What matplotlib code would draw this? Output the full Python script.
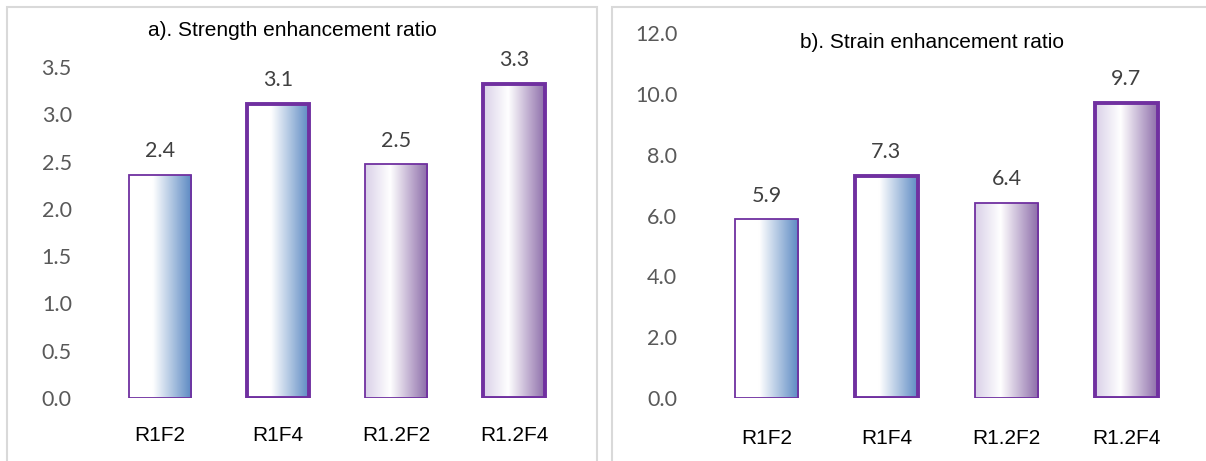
import numpy as np
import matplotlib.pyplot as plt
from matplotlib.colors import LinearSegmentedColormap
from matplotlib.patches import Rectangle

categories = ["R1F2", "R1F4", "R1.2F2", "R1.2F4"]
strength_ratio = [2.36, 3.11, 2.47, 3.32]
strain_ratio = [5.88, 7.30, 6.41, 9.70]
strength_ticks = [0.0, 0.5, 1.0, 1.5, 2.0, 2.5, 3.0, 3.5]
strain_ticks = [0.0, 2.0, 4.0, 6.0, 8.0, 10.0, 12.0]

EDGE = "#7030A0"
edge_widths = [1.3, 2.8, 1.3, 2.8]

blue_cmap = LinearSegmentedColormap.from_list(
    "blue_fade", [(0.0, "#ffffff"), (0.38, "#ffffff"), (1.0, "#5a88c2")])
purple_cmap = LinearSegmentedColormap.from_list(
    "purple_fade", [(0.0, "#d9d0e8"), (0.40, "#ffffff"), (1.0, "#8b6aa8")])
bar_cmaps = [blue_cmap, blue_cmap, purple_cmap, purple_cmap]

TEXT_FONT = ["Liberation Sans", "DejaVu Sans"]
NUM_FONT = ["Lato", "DejaVu Sans"]

fig = plt.figure(figsize=(12.06, 4.61), dpi=100)

# panel frames
W, H = 1206, 461
for (x0, y0, x1, y1) in [(7, 7, 597, 470), (612, 7, 1215, 470)]:
    fig.patches.append(Rectangle((x0 / W, 1 - y1 / H), (x1 - x0) / W, (y1 - y0) / H,
                                 transform=fig.transFigure, fill=False,
                                 edgecolor="#d9d9d9", linewidth=1.5, zorder=0))


def gradient_bars(ax, values, ticks, ymax, title, title_xy, label_off, xpad):
    x = np.arange(len(values))
    width = 0.53
    grad = np.linspace(0, 1, 256).reshape(1, -1)
    bars = ax.bar(x, values, width=width, facecolor="none",
                  edgecolor=EDGE, zorder=3)
    for b, v, cmap, lw in zip(bars, values, bar_cmaps, edge_widths):
        b.set_linewidth(lw)
        x0 = b.get_x()
        im = ax.imshow(grad, cmap=cmap, aspect="auto",
                       extent=(x0, x0 + width, 0, v), zorder=2)
        clip = Rectangle((x0, 0), width, v, transform=ax.transData)
        im.set_clip_path(clip)
        ax.annotate(f"{v:.1f}", (b.get_x() + width / 2, v),
                    xytext=(0, label_off), textcoords="offset points",
                    ha="center", va="center", fontsize=15.5, color="#404040",
                    family=NUM_FONT, annotation_clip=False)
    ax.set_xlim(-0.5, len(values) - 0.5)
    ax.set_ylim(0, ymax)
    ax.set_yticks(ticks)
    ax.set_yticklabels([f"{t:.1f}" for t in ticks], family=NUM_FONT,
                       fontsize=15.5, color="#595959")
    ax.set_xticks(x)
    ax.set_xticklabels(categories, family=TEXT_FONT, fontsize=15,
                       color="black")
    ax.tick_params(axis="y", length=0, pad=21)
    ax.tick_params(axis="x", length=0, pad=xpad)
    for s in ax.spines.values():
        s.set_visible(False)
    ax.set_facecolor("none")
    fig.text(*title_xy, title, ha="center", va="center", family=TEXT_FONT,
             fontsize=15, color="black")


ax1 = fig.add_axes([101 / W, 1 - 398 / H, 472 / W, 331 / H])
gradient_bars(ax1, strength_ratio, strength_ticks, 3.5,
              "a). Strength enhancement ratio", (292 / W, 1 - 30 / H), 17, 20)

ax2 = fig.add_axes([706.5 / W, 1 - 398 / H, 480 / W, 365 / H])
gradient_bars(ax2, strain_ratio, strain_ticks, 12.0,
              "b). Strain enhancement ratio", (932 / W, 1 - 43 / H), 17, 22)

fig.savefig("out.png", dpi=100, facecolor="white")
